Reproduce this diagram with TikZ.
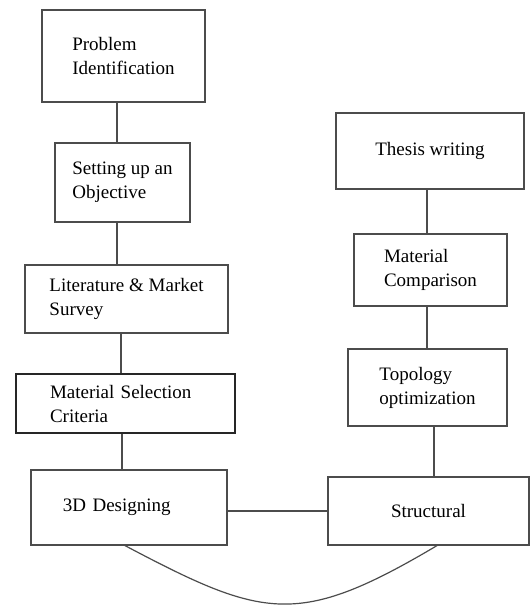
\documentclass[tikz,border=0pt]{standalone}
\usepackage{fontspec}
\setmainfont{Liberation Serif}
\begin{document}
\begin{tikzpicture}[x=1pt,y=-1pt,line width=1.2pt,draw=black!70,
    box/.style={draw,rectangle,inner sep=0pt,align=left,text=black,
                font=\fontsize{19}{24}\selectfont}]
			\useasboundingbox (0,0) rectangle (530,606);
			% left column
			\node[box,minimum width=163,minimum height=92] (1) at (123.5,56)  {Problem\\Identification};
			\node[box,minimum width=135,minimum height=79] (2) at (122.5,182.5) {Setting up an\\Objective};
			\node[box,minimum width=203,minimum height=68] (3) at (126.5,299) {Literature \& Market\\Survey};
			\node[box,minimum width=219,minimum height=59,line width=1.6pt,draw=black!85,text width=151] (4) at (125.5,403.5) {Material Selection\\Criteria};
			\node[box,minimum width=196,minimum height=75,text width=132] (5) at (129,507.5) {3D Designing};
			% right column
			\node[box,minimum width=188,minimum height=76] (6) at (430,151)   {Thesis writing};
			\node[box,minimum width=153,minimum height=72] (7) at (430.5,270) {Material\\Comparison};
			\node[box,minimum width=159,minimum height=77] (8) at (427.5,387.5) {Topology\\optimization};
			\node[box,minimum width=201,minimum height=68] (9) at (428.5,511) {Structural};
			\path ([xshift=-6.5pt]1.south) edge ([xshift=-5.5pt]2.north)
			      ([xshift=-5.5pt]2.south) edge ([xshift=-9.5pt]3.north)
			      ([xshift=-5.5pt]3.south) edge ([xshift=-4.5pt]4.north)
			      ([xshift=-3.5pt]4.south) edge ([xshift=-7pt]5.north)
			      ([yshift=-3.5pt]5.east)  edge (9.west)
			      ([xshift=-3pt]6.south)   edge ([xshift=-3.5pt]7.north)
			      ([xshift=-3.5pt]7.south) edge ([xshift=-0.5pt]8.north)
			      ([xshift=6.5pt]8.south)  edge ([xshift=5.5pt]9.north);
			\draw ([xshift=-4pt]5.south) .. controls (264,619) and (298,628) .. ([xshift=8.5pt]9.south);
		\end{tikzpicture}
\end{document}
